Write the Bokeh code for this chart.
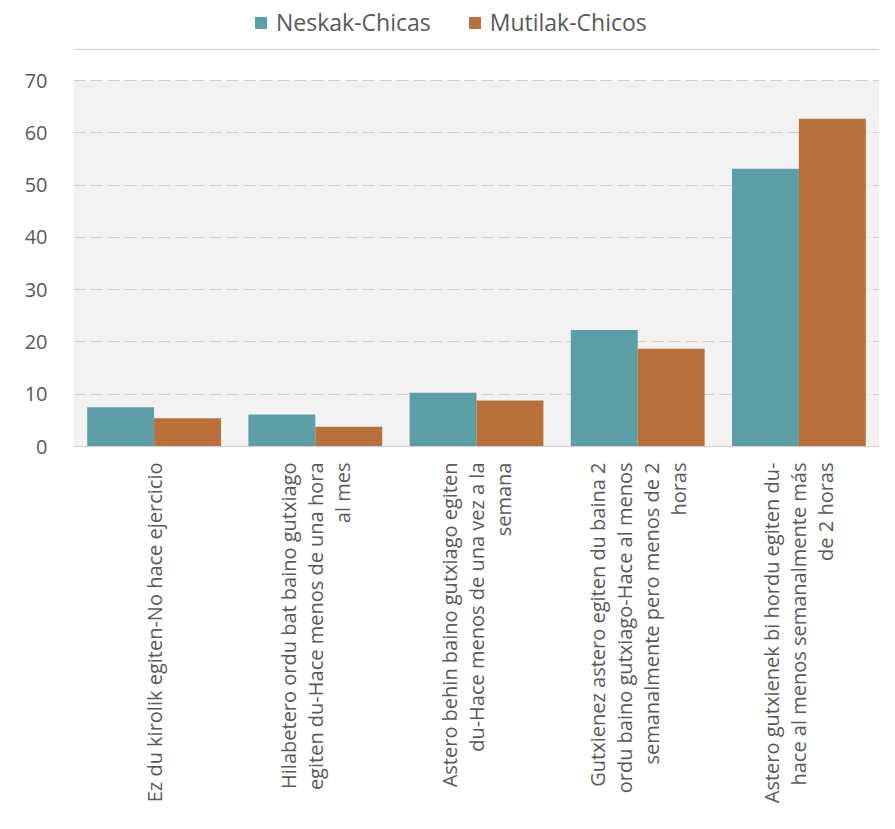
from math import pi
from bokeh.plotting import figure
from bokeh.models import FactorRange, Legend, LegendItem, ColumnDataSource, FixedTicker, BoxAnnotation, Range1d, Span
from bokeh.transform import dodge
from bokeh.embed import file_html
from bokeh.resources import INLINE

categories = [
    "Ez du kirolik egiten-No hace ejercicio",
    "Hilabetero ordu bat baino gutxiago\negiten du-Hace menos de una hora\nal mes",
    "Astero behin baino gutxiago egiten\ndu-Hace menos de una vez a la\nsemana",
    "Gutxienez astero egiten du baina 2\nordu baino gutxiago-Hace al menos\nsemanalmente pero menos de 2\nhoras",
    "Astero gutxienek bi hordu egiten du-\nhace al menos semanalmente más\nde 2 horas",
]
neskak = [7.5, 6.1, 10.3, 22.3, 53.1]
mutilak = [5.4, 3.8, 8.8, 18.7, 62.7]
series_names = ["Neskak-Chicas", "Mutilak-Chicos"]
y_ticks = [0, 10, 20, 30, 40, 50, 60, 70]
y_max = 70

TEAL = "#5B9EA6"
ORANGE = "#B8703A"
TXT = "#595959"
FONT = "Open Sans"

# frame extends above the value axis to host the legend; plot area (0..70) is 366px of 446px
W, H = 879, 813
TOP_PAD_PX, AXIS_PX = 80, 366
BOX_LINE_PX = 31  # chart border line sits 31px above the top gridline
y_top = y_max * (AXIS_PX + TOP_PAD_PX) / AXIS_PX
box_line_y = y_max * (AXIS_PX + BOX_LINE_PX) / AXIS_PX

src = ColumnDataSource(dict(cat=categories, neskak=neskak, mutilak=mutilak))

p = figure(x_range=FactorRange(factors=categories), y_range=Range1d(0, y_top),
           width=W, height=H, output_backend="svg", toolbar_location=None,
           min_border_left=73, min_border_right=0, min_border_top=0, min_border_bottom=367)

p.background_fill_color = "white"
p.border_fill_color = "white"
p.outline_line_color = None

area = BoxAnnotation(bottom=0, top=y_max, fill_color="#F2F2F2", fill_alpha=1.0,
                     line_color=None, level="image")
p.add_layout(area)

border_line = Span(location=box_line_y, dimension="width", line_color="#D9D9D9", line_width=1.5)
p.add_layout(border_line)

bw = 0.415
r1 = p.vbar(x=dodge("cat", -bw / 2, range=p.x_range), top="neskak", width=bw, source=src,
            fill_color=TEAL, line_color=None)
r2 = p.vbar(x=dodge("cat", bw / 2, range=p.x_range), top="mutilak", width=bw, source=src,
            fill_color=ORANGE, line_color=None)

p.xgrid.grid_line_color = None
p.ygrid.ticker = FixedTicker(ticks=y_ticks)
p.ygrid.grid_line_color = "#D0D0D0"
p.ygrid.grid_line_dash = "12 5"
p.ygrid.grid_line_width = 1

p.yaxis.ticker = FixedTicker(ticks=y_ticks)
p.yaxis.axis_line_color = None
p.yaxis.major_tick_line_color = None
p.yaxis.minor_tick_line_color = None
p.yaxis.major_label_text_font = FONT
p.yaxis.major_label_text_font_size = "20px"
p.yaxis.major_label_text_color = TXT
p.yaxis.major_label_standoff = 20

p.xaxis.axis_line_color = "#D0D0D0"
p.xaxis.major_tick_line_color = None
p.xaxis.minor_tick_line_color = None
p.xaxis.major_label_orientation = pi / 2
p.xaxis.major_label_text_align = "center"
p.xaxis.major_label_text_font = FONT
p.xaxis.major_label_text_font_size = "20px"
p.xaxis.major_label_text_color = TXT
p.xaxis.major_label_text_line_height = 1.0
p.xaxis.major_label_standoff = 10

legend = Legend(items=[LegendItem(label=series_names[0], renderers=[r1]),
                       LegendItem(label=series_names[1], renderers=[r2])],
                orientation="horizontal", location=(180, 408),
                background_fill_alpha=0, border_line_color=None,
                label_text_font=FONT, label_text_font_size="23px", label_text_color=TXT,
                glyph_width=15, glyph_height=15, spacing=36, padding=0, margin=0,
                label_standoff=8)
p.add_layout(legend, "center")

open("out.html", "w").write(file_html(p, INLINE))
